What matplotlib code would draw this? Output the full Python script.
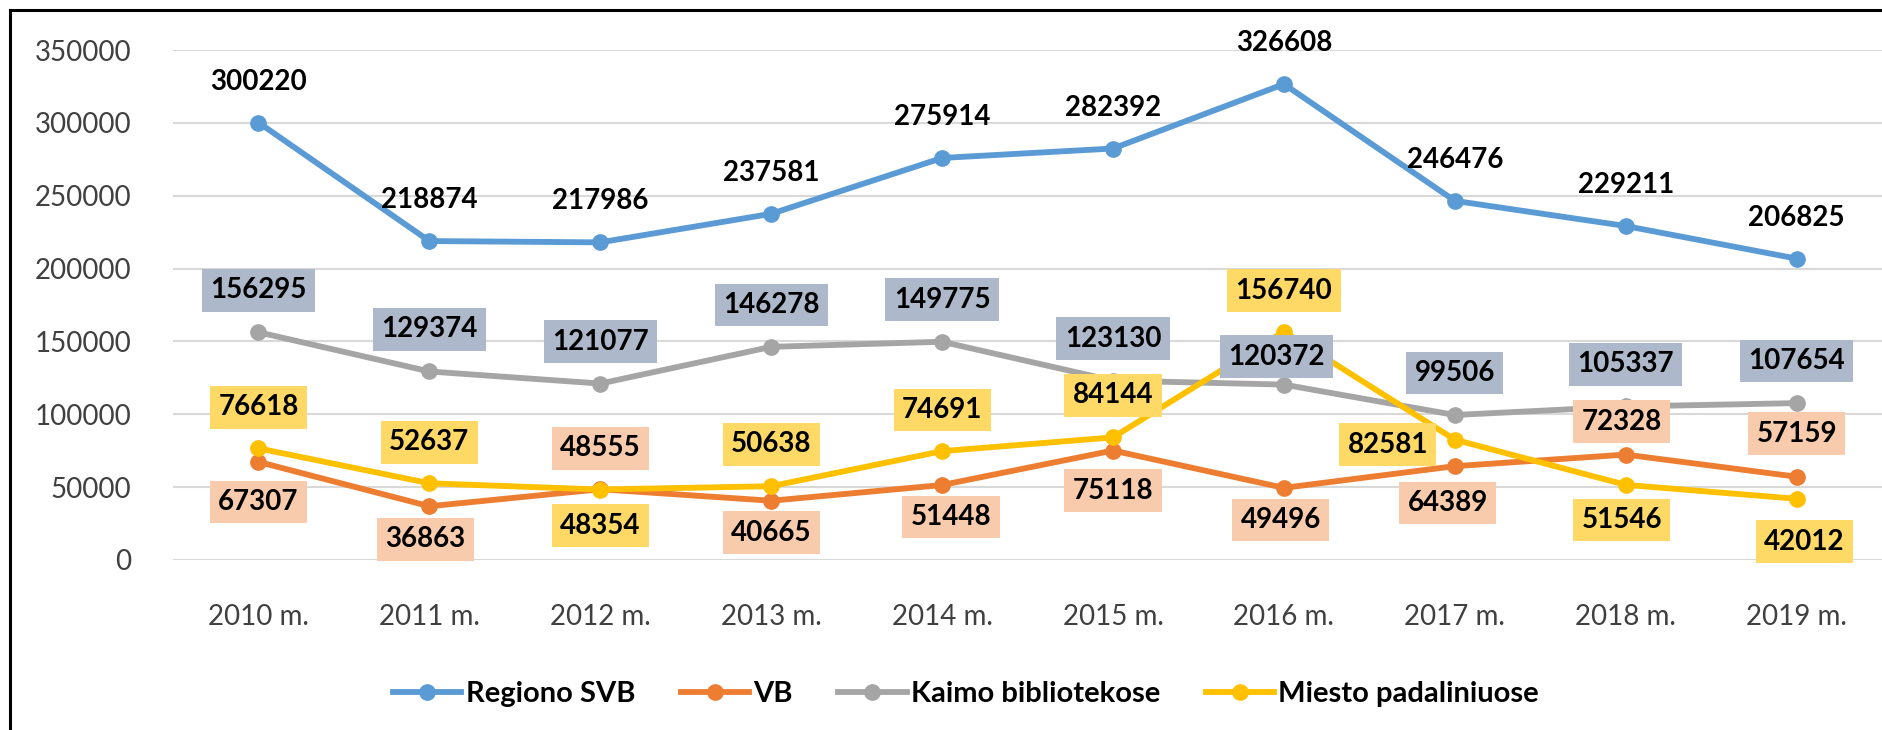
import matplotlib
matplotlib.use("Agg")
import matplotlib.pyplot as plt
from matplotlib.lines import Line2D

plt.rcParams['font.family'] = ['Lato', 'DejaVu Sans']

years = ["2010 m.", "2011 m.", "2012 m.", "2013 m.", "2014 m.",
         "2015 m.", "2016 m.", "2017 m.", "2018 m.", "2019 m."]
regiono_svb = [300220, 218874, 217986, 237581, 275914, 282392, 326608, 246476, 229211, 206825]
vb = [67307, 36863, 48555, 40665, 51448, 75118, 49496, 64389, 72328, 57159]
kaimo = [156295, 129374, 121077, 146278, 149775, 123130, 120372, 99506, 105337, 107654]
miesto = [76618, 52637, 48354, 50638, 74691, 84144, 156740, 82581, 51546, 42012]

# label offsets in pixels (dx, dy), picked by eye
off_regiono = [(0, 41)] * 10
off_kaimo = [(0, 42)] * 6 + [(-7, 28)] + [(0, 42)] * 3
off_vb = [(0, -40), (-4, -33), (0, 41), (0, -32), (9, -32), (0, -40),
          (-3, -32), (-7, -37), (-4, 33), (0, 43)]
off_miesto = [(0, 41), (0, 41), (0, -36), (0, 42), (0, 41), (0, 42),
              (0, 41), (-67, -5), (-4, -35), (8, -43)]

series = [
    ("Regiono SVB", regiono_svb, "#5B9BD5", None, off_regiono),
    ("VB", vb, "#ED7D31", "#F8CBAD", off_vb),
    ("Kaimo bibliotekose", kaimo, "#A5A5A5", "#ADB9CA", off_kaimo),
    ("Miesto padaliniuose", miesto, "#FFC000", "#FFD966", off_miesto),
]

fig = plt.figure(figsize=(18.83, 7.30), dpi=100)
ax = fig.add_axes([0.0919, 0.2329, 0.9076, 0.6986])

x = list(range(len(years)))
for name, vals, col, boxcol, offs in series:
    ax.plot(x, vals, color=col, lw=4.2, marker="o", ms=11, label=name, zorder=3)

for name, vals, col, boxcol, offs in series:
    for i, v in enumerate(vals):
        bbox = None
        if boxcol:
            bbox = dict(boxstyle="square,pad=0.3", fc=boxcol, ec="none")
        ax.annotate(f"{v}", (i, v), xytext=offs[i], textcoords="offset pixels",
                    ha="center", va="center", fontsize=20, fontweight="bold",
                    color="black", bbox=bbox, zorder=5)

ax.set_xlim(-0.5, 9.5)
ax.set_ylim(0, 350000)
ax.set_yticks(range(0, 350001, 50000))
ax.set_yticklabels([str(t) for t in range(0, 350001, 50000)])
ax.set_xticks(x)
ax.set_xticklabels(years)
ax.tick_params(length=0, labelsize=20, labelcolor="#404040")
ax.tick_params(axis="y", pad=30)
ax.tick_params(axis="x", pad=32)
ax.grid(axis="y", color="#D9D9D9", lw=1.5)
ax.set_axisbelow(True)
for s in ax.spines.values():
    s.set_visible(False)

fig.legend(loc="center", bbox_to_anchor=(0.513, 0.049), ncol=4, frameon=False,
           prop={"size": 21, "weight": "bold"}, handlelength=2.35,
           handletextpad=0.15, columnspacing=1.55)

# frame line on the left and top of the picture
fig.add_artist(Line2D([0.0053, 0.0053], [0, 0.986], color="black", lw=2.2, transform=fig.transFigure))
fig.add_artist(Line2D([0.0053, 1], [0.986, 0.986], color="black", lw=2.2, transform=fig.transFigure))

fig.savefig("out.png", dpi=100)
